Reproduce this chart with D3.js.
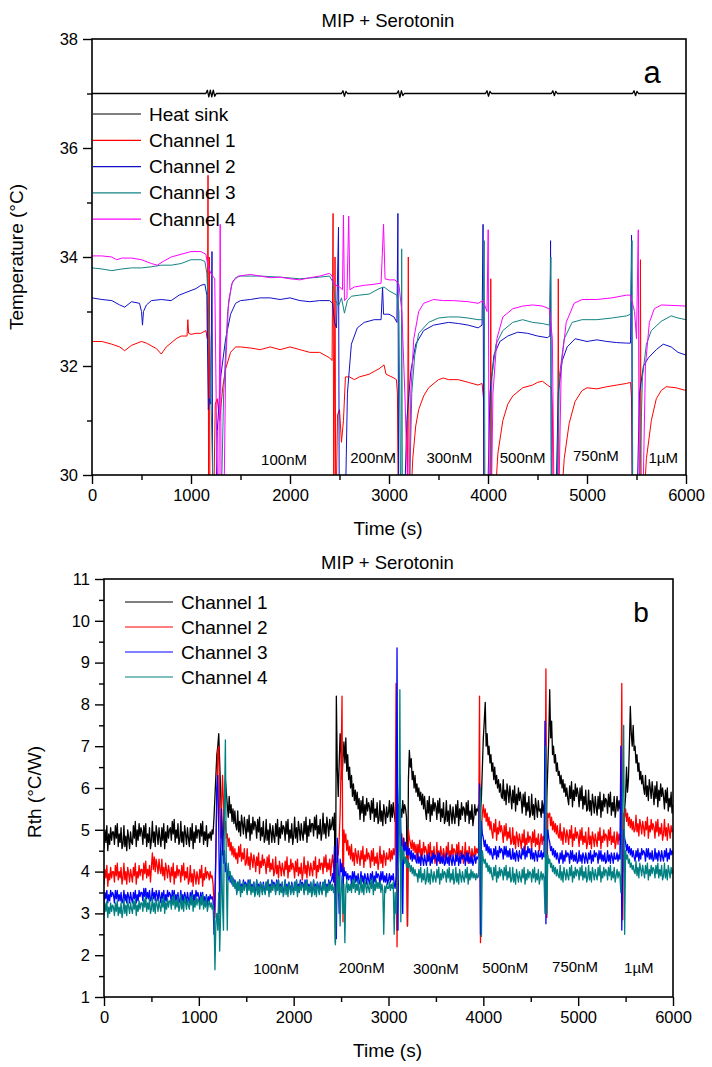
<!DOCTYPE html>
<html><head><meta charset="utf-8">
<script src="https://cdn.jsdelivr.net/npm/d3@7"></script>
<style>body{margin:0;background:#fff}svg{display:block}text{font-family:"Liberation Sans",Arial,Helvetica,sans-serif;fill:#000}</style>
</head><body><svg id="c" width="712" height="1067"></svg>
<script>
// ---------- Panel a: temperature (°C) vs time (s) ----------
const heatSink = [[0,37],[1150,37],[1165,37.06],[1180,36.94],[1195,37.06],[1210,36.94],[1225,37.06],[1240,36.95],[1255,37],[2520,37],[2535,37.05],[2550,36.95],[2565,37.04],[2580,37],[3080,37],[3095,37.05],[3110,36.93],[3125,37.05],[3140,36.96],[3155,37],[3975,37],[3990,37.05],[4005,36.95],[4020,37.04],[4035,37],[4640,37],[4655,37.05],[4670,36.96],[4685,37.04],[4700,37],[5460,37],[5475,37.05],[5490,36.96],[5505,37.04],[5520,37],[6000,37]];
const tempCh1 = [[0,32.45],[100,32.45],[200,32.4],[280,32.35],[330,32.28],[400,32.38],[500,32.45],[550,32.42],[650,32.32],[700,32.22],[750,32.35],[850,32.5],[900,32.55],[960,32.55],[968,32.85],[976,32.6],[1000,32.58],[1050,32.6],[1100,32.6],[1150,32.65],[1165,32.5],[1172,35.5],[1178,29],[1185,34.0],[1192,29],[1230,29.5],[1245,31.3],[1265,31.4],[1290,31.0],[1320,31.6],[1350,31.95],[1400,32.25],[1450,32.35],[1500,32.35],[1600,32.33],[1700,32.3],[1800,32.35],[1900,32.3],[2000,32.35],[2100,32.3],[2200,32.25],[2300,32.25],[2400,32.15],[2425,32.1],[2435,34.8],[2442,29],[2455,34.0],[2462,29],[2480,31.1],[2500,31.2],[2520,30.6],[2540,31.0],[2560,31.8],[2600,31.8],[2650,31.75],[2700,31.8],[2800,31.85],[2850,31.9],[2900,31.95],[2950,32.02],[2970,31.85],[3050,31.78],[3075,31.75],[3085,31.5],[3095,29],[3185,29],[3195,34.0],[3205,29],[3220,29.5],[3240,30.3],[3270,30.9],[3300,31.2],[3350,31.45],[3400,31.6],[3500,31.75],[3550,31.78],[3600,31.75],[3700,31.75],[3800,31.7],[3900,31.65],[3940,31.68],[3955,31.4],[3965,29],[4020,29],[4028,33.6],[4036,29],[4060,29],[4080,29.8],[4100,30.4],[4150,31.0],[4200,31.3],[4250,31.45],[4350,31.6],[4450,31.65],[4500,31.7],[4550,31.72],[4600,31.65],[4640,31.6],[4650,31.3],[4660,29],[4702,29],[4710,33.6],[4718,29],[4740,29.5],[4770,30.3],[4820,30.95],[4880,31.35],[4950,31.55],[5000,31.6],[5100,31.58],[5200,31.62],[5300,31.65],[5400,31.68],[5440,31.7],[5450,31.4],[5460,29],[5532,29],[5540,33.95],[5548,29],[5575,29.5],[5600,30.3],[5650,31.0],[5700,31.4],[5750,31.55],[5800,31.62],[5900,31.6],[6000,31.55]];
const tempCh2 = [[0,33.25],[100,33.22],[200,33.2],[280,33.12],[330,33.08],[400,33.18],[480,33.15],[500,33.0],[510,32.75],[520,33.0],[550,33.12],[600,33.2],[700,33.22],[800,33.2],[880,33.3],[950,33.35],[1050,33.42],[1100,33.48],[1140,33.5],[1160,33.3],[1175,31.2],[1185,31.4],[1200,31.3],[1212,34.1],[1220,29],[1250,29],[1265,30.8],[1300,31.8],[1350,32.5],[1400,32.95],[1450,33.15],[1500,33.2],[1600,33.22],[1700,33.25],[1800,33.25],[1900,33.22],[2000,33.25],[2100,33.2],[2200,33.18],[2300,33.2],[2400,33.2],[2430,33.15],[2450,32.8],[2470,32.7],[2490,34.55],[2498,29],[2555,29],[2580,31.5],[2620,32.4],[2680,32.7],[2750,32.8],[2850,32.85],[2920,32.85],[2935,33.45],[2945,32.95],[3000,32.95],[3050,32.9],[3080,32.8],[3090,34.8],[3098,29],[3150,29],[3180,31.0],[3220,31.9],[3270,32.4],[3350,32.65],[3450,32.75],[3600,32.8],[3700,32.78],[3800,32.75],[3900,32.7],[3940,32.75],[3950,34.6],[3958,29],[3990,29],[4020,31.5],[4060,32.2],[4120,32.45],[4200,32.55],[4300,32.62],[4400,32.6],[4500,32.55],[4600,32.52],[4625,32.55],[4632,34.3],[4640,29],[4680,29],[4710,31.5],[4750,32.1],[4800,32.35],[4880,32.5],[5000,32.45],[5100,32.48],[5200,32.45],[5300,32.43],[5400,32.42],[5440,32.42],[5450,34.4],[5458,29],[5500,29],[5530,31.5],[5570,32.0],[5620,32.15],[5700,32.3],[5770,32.4],[5850,32.35],[5920,32.25],[6000,32.2]];
const tempCh3 = [[0,33.8],[100,33.78],[200,33.75],[300,33.78],[400,33.8],[500,33.8],[600,33.82],[700,33.85],[800,33.85],[900,33.88],[1000,33.95],[1100,33.95],[1140,33.92],[1160,33.7],[1190,32.5],[1230,29],[1300,29],[1330,31.5],[1370,33.0],[1410,33.5],[1450,33.62],[1500,33.65],[1700,33.65],[1900,33.63],[2100,33.6],[2300,33.63],[2400,33.65],[2430,33.55],[2460,33.2],[2490,33.1],[2520,33.25],[2550,32.97],[2580,33.2],[2620,33.28],[2700,33.3],[2800,33.32],[2900,33.42],[2950,33.45],[3000,33.38],[3080,33.3],[3100,33.0],[3120,29],[3128,34.15],[3136,29],[3200,29],[3230,31.5],[3260,32.2],[3300,32.6],[3400,32.8],[3500,32.88],[3600,32.9],[3700,32.9],[3800,32.88],[3900,32.85],[3950,32.85],[3962,34.3],[3970,29],[4010,29],[4040,31.8],[4080,32.4],[4150,32.65],[4250,32.8],[4350,32.85],[4450,32.8],[4550,32.78],[4620,32.75],[4635,34.0],[4643,29],[4690,29],[4720,31.8],[4770,32.5],[4850,32.8],[4950,32.85],[5100,32.85],[5250,32.88],[5400,32.92],[5440,32.95],[5455,34.3],[5463,29],[5520,29],[5560,31.8],[5600,32.4],[5650,32.65],[5750,32.82],[5850,32.92],[5920,32.88],[6000,32.85]];
const tempCh4 = [[0,34.02],[100,34.02],[200,34.0],[250,33.95],[300,33.98],[400,33.98],[500,33.95],[600,33.88],[660,33.85],[720,33.92],[800,34.0],[900,34.05],[1000,34.1],[1100,34.1],[1150,34.05],[1170,33.85],[1200,33.7],[1240,33.6],[1260,30.5],[1280,29],[1295,34.6],[1305,29],[1330,29],[1350,32.0],[1380,33.2],[1420,33.55],[1480,33.65],[1600,33.68],[1700,33.65],[1800,33.62],[1900,33.63],[2000,33.6],[2100,33.58],[2200,33.62],[2300,33.65],[2400,33.7],[2425,33.65],[2445,33.5],[2500,33.45],[2530,33.4],[2540,34.77],[2550,33.2],[2575,33.25],[2593,34.75],[2605,33.4],[2650,33.45],[2750,33.48],[2850,33.5],[2920,33.52],[2945,34.6],[2960,33.6],[3000,33.58],[3060,33.58],[3100,33.5],[3130,33.0],[3160,31.5],[3185,30.0],[3200,29],[3220,31.5],[3250,32.5],[3300,33.0],[3350,33.15],[3450,33.22],[3550,33.2],[3650,33.2],[3800,33.18],[3900,33.15],[3950,33.2],[3990,33.0],[4002,34.5],[4012,29],[4030,29],[4050,31.5],[4090,32.5],[4150,32.9],[4250,33.05],[4350,33.1],[4450,33.12],[4550,33.1],[4620,33.05],[4650,32.5],[4670,29],[4710,29],[4740,32.0],[4790,32.8],[4870,33.15],[4950,33.22],[5100,33.22],[5250,33.25],[5400,33.3],[5440,33.3],[5480,33.0],[5500,32.5],[5518,34.5],[5528,29],[5560,29],[5590,32.0],[5630,32.8],[5680,33.05],[5750,33.12],[6000,33.1]];
const tempLegend = ["Heat sink","Channel 1","Channel 2","Channel 3","Channel 4"];

// ---------- Panel b: Rth (°C/W), one reading every 10 s from 0 to 6000 s (10 per line = 100 s) ----------
const rthStep = 10;
const rthCh1 = [
4.55,5.0,4.7,5.1,4.5,4.9,4.65,5.05,4.75,4.95,
4.95,4.65,5.1,4.8,5.15,4.6,4.9,4.7,5.05,4.55,
4.65,5.1,4.6,4.85,4.5,5.0,4.8,4.55,4.95,4.7,
4.65,5.1,4.8,5.2,4.6,5.0,4.75,5.15,4.85,5.05,
4.95,4.65,5.1,4.8,5.15,4.6,4.9,4.7,5.05,4.55,
4.75,5.2,4.7,4.95,4.6,5.1,4.9,4.65,5.05,4.8,
4.6,5.05,4.75,5.15,4.55,4.95,4.7,5.1,4.8,5.0,
5.05,4.75,5.2,4.9,5.25,4.7,5.0,4.8,5.15,4.65,
4.75,5.2,4.7,4.95,4.6,5.1,4.9,4.65,5.05,4.8,
4.6,5.05,4.75,5.15,4.55,4.95,4.7,5.1,4.8,5.0,
5.0,4.7,5.15,4.85,5.2,4.65,4.95,4.75,5.1,4.6,
4.9,4.8,4.95,4.75,5.0,4.9,5.3,5.8,6.3,6.8,
7.0,7.3,6.6,5.9,5.2,4.4,5.0,5.8,6.2,5.9,
5.6,5.3,5.8,5.4,5.6,5.2,5.5,5.15,5.45,5.1,
5.0,5.45,4.95,5.2,4.85,5.35,5.15,4.9,5.3,5.05,
4.8,5.25,4.95,5.35,4.75,5.15,4.9,5.3,5.0,5.2,
5.1,4.8,5.25,4.95,5.3,4.75,5.05,4.85,5.2,4.7,
4.8,5.25,4.75,5.0,4.65,5.15,4.95,4.7,5.1,4.85,
4.7,5.15,4.85,5.25,4.65,5.05,4.8,5.2,4.9,5.1,
5.05,4.75,5.2,4.9,5.25,4.7,5.0,4.8,5.15,4.65,
4.85,5.3,4.8,5.05,4.7,5.2,5.0,4.75,5.15,4.9,
4.75,5.2,4.9,5.3,4.7,5.1,4.85,5.25,4.95,5.15,
5.15,4.85,5.3,5.0,5.35,4.8,5.1,4.9,5.25,4.75,
4.95,5.4,4.9,5.15,4.8,5.3,5.1,4.85,5.25,5.0,
5.1,5.3,5.0,5.4,2.3,8.2,6.5,5.8,6.6,7.3,
6.8,6.2,6.7,7.1,6.6,7.2,6.4,6.8,6.2,6.5,
6.0,6.3,5.8,6.1,5.7,5.95,5.6,5.9,5.5,5.75,
5.25,5.7,5.4,5.8,5.2,5.6,5.35,5.75,5.45,5.65,
5.55,5.25,5.7,5.4,5.75,5.2,5.5,5.3,5.65,5.15,
5.25,5.7,5.2,5.45,5.1,5.6,5.4,5.15,5.55,5.3,
5.4,5.7,5.2,5.6,5.3,5.65,5.4,5.2,5.5,2.6,
5.4,5.6,5.2,5.5,5.3,5.7,5.4,5.6,5.5,5.3,
2.7,6.2,6.9,6.5,6.7,6.2,6.4,6.0,6.3,5.9,
6.1,5.8,6.0,5.7,5.9,5.6,5.85,5.5,5.8,5.45,
5.25,5.7,5.4,5.8,5.2,5.6,5.35,5.75,5.45,5.65,
5.55,5.25,5.7,5.4,5.75,5.2,5.5,5.3,5.65,5.15,
5.25,5.7,5.2,5.45,5.1,5.6,5.4,5.15,5.55,5.3,
5.15,5.6,5.3,5.7,5.1,5.5,5.25,5.65,5.35,5.55,
5.5,5.2,5.65,5.35,5.7,5.15,5.45,5.25,5.6,5.1,
5.3,5.6,5.35,5.5,5.45,5.6,4.5,5.4,5.8,6.5,
7.2,7.6,8.05,7.0,7.3,6.8,7.0,6.6,6.8,6.4,
6.6,6.2,6.5,6.1,6.3,6.0,6.2,5.9,6.1,5.8,
5.75,6.2,5.7,5.95,5.6,6.1,5.9,5.65,6.05,5.8,
5.5,5.95,5.65,6.05,5.45,5.85,5.6,6.0,5.7,5.9,
5.7,5.4,5.85,5.55,5.9,5.35,5.65,5.45,5.8,5.3,
5.4,5.85,5.35,5.6,5.25,5.75,5.55,5.3,5.7,5.45,
5.5,5.3,5.7,5.4,5.6,5.7,4.5,5.8,6.5,7.2,
8.35,7.2,7.6,6.8,7.0,6.6,6.8,6.4,6.6,6.3,
6.4,6.1,6.3,6.0,6.2,5.9,6.1,5.8,6.0,5.75,
5.6,6.05,5.75,6.15,5.55,5.95,5.7,6.1,5.8,6.0,
5.85,5.55,6.0,5.7,6.05,5.5,5.8,5.6,5.95,5.45,
5.5,5.95,5.45,5.7,5.35,5.85,5.65,5.4,5.8,5.55,
5.35,5.8,5.5,5.9,5.3,5.7,5.45,5.85,5.55,5.75,
5.7,5.4,5.85,5.55,5.9,5.35,5.65,5.45,5.8,5.3,
5.5,5.8,5.45,5.7,5.5,5.8,5.3,4.0,5.0,5.5,
5.8,6.5,5.9,6.2,7.0,7.95,7.3,7.0,7.5,6.9,
7.0,6.6,6.8,6.4,6.6,6.2,6.4,6.1,6.3,6.0,
5.85,6.3,5.8,6.05,5.7,6.2,6.0,5.75,6.15,5.9,
5.6,6.05,5.75,6.15,5.55,5.95,5.7,6.1,5.8,6.0,
5.8,5.5,5.95,5.65,6.0,5.45,5.75,5.55,5.9,5.4,
5.6];
const rthCh2 = [
3.7,4.05,3.85,4.15,3.65,3.95,3.8,4.1,3.85,4.0,
4.0,3.75,4.15,3.9,4.2,3.8,4.0,3.85,4.1,3.7,
3.85,4.2,3.8,4.0,3.7,4.1,3.95,3.75,4.05,3.9,
3.75,4.1,3.9,4.2,3.7,4.0,3.85,4.15,3.9,4.05,
4.05,3.8,4.2,3.95,4.25,3.85,4.05,3.9,4.15,3.75,
4.1,4.45,4.05,4.35,4.0,4.3,4.15,3.95,4.3,4.05,
3.95,4.3,3.9,4.1,3.8,4.2,4.05,3.85,4.15,4.0,
3.75,4.1,3.9,4.2,3.7,4.0,3.85,4.15,3.9,4.05,
4.0,3.75,4.15,3.9,4.2,3.8,4.0,3.85,4.1,3.7,
3.8,4.15,3.75,3.95,3.65,4.05,3.9,3.7,4.0,3.85,
3.7,4.05,3.85,4.15,3.65,3.95,3.8,4.1,3.85,4.0,
3.95,3.8,4.0,3.85,3.9,3.7,3.3,2.9,4.5,5.8,
6.9,7.0,5.5,4.8,5.6,6.3,5.6,5.0,5.2,4.8,
4.9,4.6,4.8,4.5,4.7,4.4,4.6,4.35,4.55,4.3,
4.45,4.2,4.6,4.35,4.65,4.25,4.45,4.3,4.55,4.15,
4.2,4.55,4.15,4.35,4.05,4.45,4.3,4.1,4.4,4.25,
4.0,4.35,4.15,4.45,3.95,4.25,4.1,4.4,4.15,4.3,
4.2,3.95,4.35,4.1,4.4,4.0,4.2,4.05,4.3,3.9,
4.0,4.35,3.95,4.15,3.85,4.25,4.1,3.9,4.2,4.05,
3.9,4.25,4.05,4.35,3.85,4.15,4.0,4.3,4.05,4.2,
4.1,3.85,4.25,4.0,4.3,3.9,4.1,3.95,4.2,3.8,
4.0,4.35,3.95,4.15,3.85,4.25,4.1,3.9,4.2,4.05,
3.9,4.25,4.05,4.35,3.85,4.15,4.0,4.3,4.05,4.2,
4.2,3.95,4.35,4.1,4.4,4.0,4.2,4.05,4.3,3.9,
4.2,4.4,4.1,4.3,4.0,3.0,4.6,4.4,4.8,5.4,
6.5,8.2,2.8,5.0,4.7,4.9,4.5,4.75,4.4,4.6,
4.3,4.65,4.25,4.45,4.15,4.55,4.4,4.2,4.5,4.35,
4.15,4.5,4.3,4.6,4.1,4.4,4.25,4.55,4.3,4.45,
4.35,4.1,4.5,4.25,4.55,4.15,4.35,4.2,4.45,4.05,
4.25,4.6,4.2,4.4,4.1,4.5,4.35,4.15,4.45,4.3,
4.3,4.55,4.25,4.5,4.3,4.55,4.4,4.6,8.5,2.2,
5.2,4.9,5.1,4.7,4.9,4.6,4.8,4.5,4.7,4.55,
2.7,5.0,4.8,4.7,4.55,4.75,4.5,4.7,4.45,4.65,
4.3,4.65,4.45,4.75,4.25,4.55,4.4,4.7,4.45,4.6,
4.5,4.25,4.65,4.4,4.7,4.3,4.5,4.35,4.6,4.2,
4.35,4.7,4.3,4.5,4.2,4.6,4.45,4.25,4.55,4.4,
4.25,4.6,4.4,4.7,4.2,4.5,4.35,4.65,4.4,4.55,
4.5,4.25,4.65,4.4,4.7,4.3,4.5,4.35,4.6,4.2,
4.35,4.7,4.3,4.5,4.2,4.6,4.45,4.25,4.55,4.4,
4.35,4.6,4.4,4.55,4.45,4.6,8.2,2.3,5.0,5.4,
5.6,5.3,5.5,5.2,5.4,5.1,5.3,5.0,5.2,4.95,
4.8,5.15,4.95,5.25,4.75,5.05,4.9,5.2,4.95,5.1,
4.95,4.7,5.1,4.85,5.15,4.75,4.95,4.8,5.05,4.65,
4.7,5.05,4.65,4.85,4.55,4.95,4.8,4.6,4.9,4.75,
4.55,4.9,4.7,5.0,4.5,4.8,4.65,4.95,4.7,4.85,
4.8,4.55,4.95,4.7,5.0,4.6,4.8,4.65,4.9,4.5,
4.7,4.9,4.65,4.85,4.75,4.9,8.85,2.9,5.4,5.3,
5.4,5.1,5.3,5.0,5.2,4.95,5.15,4.9,5.1,4.85,
4.8,5.15,4.75,4.95,4.65,5.05,4.9,4.7,5.0,4.85,
4.65,5.0,4.8,5.1,4.6,4.9,4.75,5.05,4.8,4.95,
4.85,4.6,5.0,4.75,5.05,4.65,4.85,4.7,4.95,4.55,
4.7,5.05,4.65,4.85,4.55,4.95,4.8,4.6,4.9,4.75,
4.6,4.95,4.75,5.05,4.55,4.85,4.7,5.0,4.75,4.9,
4.85,4.6,5.0,4.75,5.05,4.65,4.85,4.7,4.95,4.55,
4.7,4.95,4.65,4.9,4.75,4.95,8.5,2.85,5.4,5.3,
5.5,5.2,5.4,5.1,5.3,5.05,5.25,5.0,5.2,4.95,
5.0,5.35,4.95,5.15,4.85,5.25,5.1,4.9,5.2,5.05,
4.85,5.2,5.0,5.3,4.8,5.1,4.95,5.25,5.0,5.15,
5.05,4.8,5.2,4.95,5.25,4.85,5.05,4.9,5.15,4.75,
4.9,5.25,4.85,5.05,4.75,5.15,5.0,4.8,5.1,4.95,
5.0];
const rthCh3 = [
3.25,3.5,3.35,3.55,3.25,3.45,3.3,3.55,3.4,3.5,
3.45,3.25,3.55,3.35,3.55,3.3,3.45,3.3,3.5,3.25,
3.3,3.55,3.3,3.45,3.25,3.5,3.4,3.25,3.5,3.35,
3.25,3.5,3.35,3.55,3.25,3.45,3.3,3.55,3.4,3.5,
3.5,3.3,3.6,3.4,3.6,3.35,3.5,3.35,3.55,3.3,
3.35,3.6,3.35,3.5,3.3,3.55,3.45,3.3,3.55,3.4,
3.25,3.5,3.35,3.55,3.25,3.45,3.3,3.55,3.4,3.5,
3.45,3.25,3.55,3.35,3.55,3.3,3.45,3.3,3.5,3.25,
3.3,3.55,3.3,3.45,3.25,3.5,3.4,3.25,3.5,3.35,
3.25,3.5,3.35,3.55,3.25,3.45,3.3,3.55,3.4,3.5,
3.4,3.2,3.5,3.3,3.5,3.25,3.4,3.25,3.45,3.2,
3.4,3.3,3.45,3.35,3.4,3.3,2.5,3.5,4.5,6.0,
6.3,5.0,3.0,4.5,5.5,4.8,4.2,4.5,4.0,4.2,
4.0,3.8,4.0,3.75,3.9,3.7,3.85,3.65,3.8,3.7,
3.5,3.75,3.6,3.8,3.5,3.7,3.55,3.8,3.65,3.75,
3.7,3.5,3.8,3.6,3.8,3.55,3.7,3.55,3.75,3.5,
3.55,3.8,3.55,3.7,3.5,3.75,3.65,3.5,3.75,3.6,
3.5,3.75,3.6,3.8,3.5,3.7,3.55,3.8,3.65,3.75,
3.7,3.5,3.8,3.6,3.8,3.55,3.7,3.55,3.75,3.5,
3.55,3.8,3.55,3.7,3.5,3.75,3.65,3.5,3.75,3.6,
3.5,3.75,3.6,3.8,3.5,3.7,3.55,3.8,3.65,3.75,
3.7,3.5,3.8,3.6,3.8,3.55,3.7,3.55,3.75,3.5,
3.55,3.8,3.55,3.7,3.5,3.75,3.65,3.5,3.75,3.6,
3.5,3.75,3.6,3.8,3.5,3.7,3.55,3.8,3.65,3.75,
3.8,3.95,3.75,4.6,3.2,2.4,4.8,4.0,3.0,4.3,
4.0,4.2,3.6,4.1,3.9,4.0,3.8,3.95,3.8,3.9,
3.9,3.7,4.0,3.8,4.0,3.75,3.9,3.75,3.95,3.7,
3.75,4.0,3.75,3.9,3.7,3.95,3.85,3.7,3.95,3.8,
3.7,3.95,3.8,4.0,3.7,3.9,3.75,4.0,3.85,3.95,
3.9,3.7,4.0,3.8,4.0,3.75,3.9,3.75,3.95,3.7,
3.8,3.95,3.75,3.9,3.8,3.95,3.7,3.6,3.9,9.35,
2.6,5.5,6.3,5.0,4.6,3.0,4.8,4.5,4.7,4.4,
4.6,4.4,4.55,4.3,4.5,4.25,4.45,4.3,4.4,4.25,
4.2,4.45,4.2,4.35,4.15,4.4,4.3,4.15,4.4,4.25,
4.15,4.4,4.25,4.45,4.15,4.35,4.2,4.45,4.3,4.4,
4.35,4.15,4.45,4.25,4.45,4.2,4.35,4.2,4.4,4.15,
4.2,4.45,4.2,4.35,4.15,4.4,4.3,4.15,4.4,4.25,
4.15,4.4,4.25,4.45,4.15,4.35,4.2,4.45,4.3,4.4,
4.35,4.15,4.45,4.25,4.45,4.2,4.35,4.2,4.4,4.15,
4.25,4.4,4.2,4.35,4.3,4.4,6.1,2.5,5.2,4.9,
4.8,4.6,4.75,4.5,4.65,4.45,4.6,4.4,4.55,4.4,
4.3,4.55,4.4,4.6,4.3,4.5,4.35,4.6,4.45,4.55,
4.5,4.3,4.6,4.4,4.6,4.35,4.5,4.35,4.55,4.3,
4.3,4.55,4.3,4.45,4.25,4.5,4.4,4.25,4.5,4.35,
4.3,4.55,4.4,4.6,4.3,4.5,4.35,4.6,4.45,4.55,
4.3,4.55,4.3,4.45,4.25,4.5,4.4,4.25,4.5,4.35,
4.35,4.5,4.3,4.45,4.35,7.6,2.75,4.6,5.0,4.8,
4.7,4.5,4.6,4.4,4.55,4.35,4.5,4.3,4.45,4.3,
4.2,4.45,4.3,4.5,4.2,4.4,4.25,4.5,4.35,4.45,
4.4,4.2,4.5,4.3,4.5,4.25,4.4,4.25,4.45,4.2,
4.25,4.5,4.25,4.4,4.2,4.45,4.35,4.2,4.45,4.3,
4.2,4.45,4.3,4.5,4.2,4.4,4.25,4.5,4.35,4.45,
4.4,4.2,4.5,4.3,4.5,4.25,4.4,4.25,4.45,4.2,
4.25,4.5,4.25,4.4,4.2,4.45,4.35,4.2,4.45,4.3,
4.3,4.45,4.25,4.4,4.3,7.0,2.6,4.5,5.0,4.8,
4.7,4.5,4.65,4.45,4.6,4.4,4.55,4.35,4.5,4.35,
4.25,4.5,4.35,4.55,4.25,4.45,4.3,4.55,4.4,4.5,
4.45,4.25,4.55,4.35,4.55,4.3,4.45,4.3,4.5,4.25,
4.3,4.55,4.3,4.45,4.25,4.5,4.4,4.25,4.5,4.35,
4.25,4.5,4.35,4.55,4.25,4.45,4.3,4.55,4.4,4.5,
4.4];
const rthCh4 = [
2.95,3.25,3.05,3.3,2.9,3.15,3.0,3.25,3.05,3.2,
3.15,2.95,3.25,3.05,3.3,2.95,3.15,3.0,3.25,2.9,
3.05,3.35,3.0,3.2,2.95,3.3,3.15,3.0,3.25,3.1,
3.0,3.3,3.1,3.35,2.95,3.2,3.05,3.3,3.1,3.25,
3.25,3.05,3.35,3.15,3.4,3.05,3.25,3.1,3.35,3.0,
3.1,3.4,3.05,3.25,3.0,3.35,3.2,3.05,3.3,3.15,
3.05,3.35,3.15,3.4,3.0,3.25,3.1,3.35,3.15,3.3,
3.3,3.1,3.4,3.2,3.45,3.1,3.3,3.15,3.4,3.05,
3.15,3.45,3.1,3.3,3.05,3.4,3.25,3.1,3.35,3.2,
3.1,3.4,3.2,3.45,3.05,3.3,3.15,3.4,3.2,3.35,
3.3,3.1,3.4,3.2,3.45,3.1,3.3,3.15,3.4,3.05,
3.2,3.3,3.15,3.25,3.1,3.2,3.0,1.65,2.8,3.0,
2.6,3.5,2.1,3.0,4.5,3.2,2.6,5.5,7.15,4.0,
2.6,4.2,3.9,4.0,3.75,3.9,3.65,3.8,3.6,3.75,
3.45,3.75,3.55,3.8,3.4,3.65,3.5,3.75,3.55,3.7,
3.65,3.45,3.75,3.55,3.8,3.45,3.65,3.5,3.75,3.4,
3.5,3.8,3.45,3.65,3.4,3.75,3.6,3.45,3.7,3.55,
3.45,3.75,3.55,3.8,3.4,3.65,3.5,3.75,3.55,3.7,
3.65,3.45,3.75,3.55,3.8,3.45,3.65,3.5,3.75,3.4,
3.5,3.8,3.45,3.65,3.4,3.75,3.6,3.45,3.7,3.55,
3.45,3.75,3.55,3.8,3.4,3.65,3.5,3.75,3.55,3.7,
3.65,3.45,3.75,3.55,3.8,3.45,3.65,3.5,3.75,3.4,
3.5,3.8,3.45,3.65,3.4,3.75,3.6,3.45,3.7,3.55,
3.45,3.75,3.55,3.8,3.4,3.65,3.5,3.75,3.55,3.7,
3.55,3.7,3.5,3.65,2.25,3.4,4.2,3.5,3.9,2.7,
3.6,3.9,3.0,3.7,2.3,3.6,3.8,3.5,3.7,3.55,
3.7,3.5,3.8,3.6,3.85,3.5,3.7,3.55,3.8,3.45,
3.55,3.85,3.5,3.7,3.45,3.8,3.65,3.5,3.75,3.6,
3.5,3.8,3.6,3.85,3.45,3.7,3.55,3.8,3.6,3.75,
3.6,3.75,3.5,3.7,3.55,2.5,3.65,3.5,3.7,3.6,
3.6,3.75,3.55,3.7,3.6,3.75,2.5,3.5,3.0,3.6,
3.9,4.5,8.35,2.8,4.6,4.3,4.5,4.2,4.35,4.1,
4.3,4.1,4.2,4.0,4.15,3.95,4.1,3.9,4.05,3.9,
3.95,3.75,4.05,3.85,4.1,3.75,3.95,3.8,4.05,3.7,
3.8,4.1,3.75,3.95,3.7,4.05,3.9,3.75,4.0,3.85,
3.75,4.05,3.85,4.1,3.7,3.95,3.8,4.05,3.85,4.0,
3.95,3.75,4.05,3.85,4.1,3.75,3.95,3.8,4.05,3.7,
3.8,4.1,3.75,3.95,3.7,4.05,3.9,3.75,4.0,3.85,
3.75,4.05,3.85,4.1,3.7,3.95,3.8,4.05,3.85,4.0,
3.85,3.95,3.8,3.95,3.85,3.9,5.0,6.0,2.45,4.5,
4.3,4.2,4.3,4.1,4.2,4.0,4.15,3.95,4.1,3.9,
3.8,4.1,3.9,4.15,3.75,4.0,3.85,4.1,3.9,4.05,
4.0,3.8,4.1,3.9,4.15,3.8,4.0,3.85,4.1,3.75,
3.8,4.1,3.75,3.95,3.7,4.05,3.9,3.75,4.0,3.85,
3.75,4.05,3.85,4.1,3.7,3.95,3.8,4.05,3.85,4.0,
3.95,3.75,4.05,3.85,4.1,3.75,3.95,3.8,4.05,3.7,
3.85,4.0,3.8,3.95,3.85,3.0,7.0,3.0,4.4,4.2,
4.3,4.1,4.2,4.0,4.15,3.95,4.1,3.9,4.05,3.9,
3.85,4.15,3.8,4.0,3.75,4.1,3.95,3.8,4.05,3.9,
3.8,4.1,3.9,4.15,3.75,4.0,3.85,4.1,3.9,4.05,
4.0,3.8,4.1,3.9,4.15,3.8,4.0,3.85,4.1,3.75,
3.85,4.15,3.8,4.0,3.75,4.1,3.95,3.8,4.05,3.9,
3.8,4.1,3.9,4.15,3.75,4.0,3.85,4.1,3.9,4.05,
4.0,3.8,4.1,3.9,4.15,3.8,4.0,3.85,4.1,3.75,
3.9,4.05,3.85,4.0,3.9,3.5,4.5,6.0,7.5,2.5,
4.5,4.3,4.4,4.2,4.3,4.1,4.2,4.05,4.15,4.0,
3.95,4.25,3.9,4.1,3.85,4.2,4.05,3.9,4.15,4.0,
3.85,4.15,3.95,4.2,3.8,4.05,3.9,4.15,3.95,4.1,
4.05,3.85,4.15,3.95,4.2,3.85,4.05,3.9,4.15,3.8,
3.9,4.2,3.85,4.05,3.8,4.15,4.0,3.85,4.1,3.95,
4.05];
const rthLegend = ["Channel 1","Channel 2","Channel 3","Channel 4"];

// ---------- annotations & ticks ----------
const concLabels = ["100nM","200nM","300nM","500nM","750nM","1\u00B5M"];
const concTimeA = [1940,2840,3610,4350,5090,5770];
const concValA = [30.18,30.22,30.22,30.22,30.26,30.22];
const concTimeB = [1815,2718,3500,4231,4967,5640];
const concValB = [1.55,1.58,1.55,1.58,1.61,1.58];
const timeTicks = [0,1000,2000,3000,4000,5000,6000];
const timeMinor = [500,1500,2500,3500,4500,5500];
const tempTicks = [30,32,34,36,38];
const tempMinor = [31,33,35,37];
const rthTicks = [1,2,3,4,5,6,7,8,9,10,11];
const rthMinor = [1.5,2.5,3.5,4.5,5.5,6.5,7.5,8.5,9.5,10.5];

const svg = d3.select("#c");

function panel(cfg) {
  const x = d3.scaleLinear().domain([0, 6000]).range([cfg.x0, cfg.x1]);
  const y = d3.scaleLinear().domain(cfg.ydom).range([cfg.y1, cfg.y0]);
  const g = svg.append("g");
  g.append("clipPath").attr("id", cfg.id).append("rect")
    .attr("x", cfg.x0).attr("y", cfg.y0).attr("width", cfg.x1 - cfg.x0).attr("height", cfg.y1 - cfg.y0);
  const lg = g.append("g").attr("clip-path", `url(#${cfg.id})`);
  const line = d3.line().x(d => x(d[0])).y(d => y(d[1]));
  cfg.series.forEach(s => {
    lg.append("path").attr("d", line(s.data)).attr("fill", "none")
      .attr("stroke", s.color).attr("stroke-width", s.w || 1).attr("stroke-linejoin", "round");
  });
  const styleAxis = sel => {
    sel.select(".domain").remove();
    sel.selectAll(".tick line").attr("stroke", "#000").attr("stroke-width", 1.4);
    sel.selectAll(".tick text").style("font-size", "16.5px").attr("fill", "#000");
  };
  g.append("g").attr("transform", `translate(0,${cfg.y1})`)
    .call(d3.axisBottom(x).tickValues(timeTicks).tickSize(9).tickPadding(5).tickFormat(d3.format("d"))).call(styleAxis);
  g.append("g").attr("transform", `translate(0,${cfg.y1})`)
    .call(d3.axisBottom(x).tickValues(timeMinor).tickSize(5).tickFormat("")).call(styleAxis);
  g.append("g").attr("transform", `translate(${cfg.x0},0)`)
    .call(d3.axisLeft(y).tickValues(cfg.yTicks).tickSize(9).tickPadding(5).tickFormat(d3.format("d"))).call(styleAxis);
  g.append("g").attr("transform", `translate(${cfg.x0},0)`)
    .call(d3.axisLeft(y).tickValues(cfg.yMinor).tickSize(5).tickFormat("")).call(styleAxis);
  g.append("rect").attr("x", cfg.x0).attr("y", cfg.y0).attr("width", cfg.x1 - cfg.x0).attr("height", cfg.y1 - cfg.y0)
    .attr("fill", "none").attr("stroke", "#000").attr("stroke-width", 1.6);
  g.append("text").attr("x", (cfg.x0 + cfg.x1) / 2 - 1).attr("y", cfg.titleY).attr("text-anchor", "middle")
    .style("font-size", "18.5px").text("MIP + Serotonin");
  g.append("text").attr("x", (cfg.x0 + cfg.x1) / 2 - 1).attr("y", cfg.y1 + 60).attr("text-anchor", "middle")
    .style("font-size", "19px").text("Time (s)");
  g.append("text").attr("transform", `translate(${cfg.ylabX},${cfg.ylabY}) rotate(-90)`).attr("text-anchor", "middle")
    .style("font-size", "19px").text(cfg.ylab);
  g.append("text").attr("x", cfg.letterX).attr("y", cfg.letterY).attr("text-anchor", "middle")
    .style("font-size", cfg.letterSize).text(cfg.letter);
  cfg.legend.forEach((name, i) => {
    const ly = cfg.legY + i * cfg.legDy;
    g.append("line").attr("x1", cfg.legX).attr("x2", cfg.legX + 48).attr("y1", ly).attr("y2", ly)
      .attr("stroke", cfg.series[i].color).attr("stroke-width", 1.2);
    g.append("text").attr("x", cfg.legX + 56).attr("y", ly + 6.5).style("font-size", "19px").text(name);
  });
  concLabels.forEach((c, i) => {
    g.append("text").attr("x", x(cfg.concT[i])).attr("y", y(cfg.concV[i])).attr("text-anchor", "middle")
      .style("font-size", "15px").text(c);
  });
}

panel({
  id: "clipA", x0: 92, x1: 686, y0: 39, y1: 475, ydom: [30, 38], yTicks: tempTicks, yMinor: tempMinor,
  titleY: 27, ylab: "Temperature (\u00B0C)", ylabX: 23, ylabY: 257,
  letter: "a", letterX: 652, letterY: 83, letterSize: "31px",
  legX: 93, legY: 114, legDy: 26.3, legend: tempLegend,
  concT: concTimeA, concV: concValA,
  series: [
    {data: heatSink, color: "#000000", w: 1.3},
    {data: tempCh1, color: "#ff0000"},
    {data: tempCh2, color: "#1010c8"},
    {data: tempCh3, color: "#138383"},
    {data: tempCh4, color: "#ff00ff"}
  ]
});

const rthSeries = [rthCh1, rthCh2, rthCh3, rthCh4].map(arr => arr.map((v, i) => [i * rthStep, v]));
panel({
  id: "clipB", x0: 104, x1: 673, y0: 579, y1: 997, ydom: [1, 11], yTicks: rthTicks, yMinor: rthMinor,
  titleY: 569, ylab: "Rth (\u00B0C/W)", ylabX: 41, ylabY: 792,
  letter: "b", letterX: 641, letterY: 622, letterSize: "28px",
  legX: 125, legY: 602, legDy: 25, legend: rthLegend,
  concT: concTimeB, concV: concValB,
  series: [
    {data: rthSeries[0], color: "#000000", w: 1.3},
    {data: rthSeries[1], color: "#ff0000", w: 1.3},
    {data: rthSeries[2], color: "#0000ff", w: 1.3},
    {data: rthSeries[3], color: "#008080", w: 1.3}
  ]
});
</script></body></html>
